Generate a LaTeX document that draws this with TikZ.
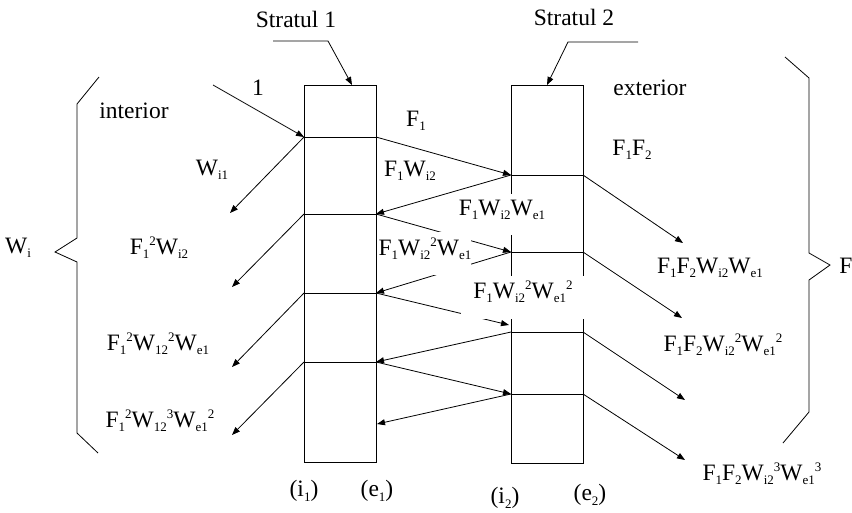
\documentclass[tikz,border=0pt]{standalone}
\usepackage{fontspec}
\setmainfont{Liberation Serif}
\usetikzlibrary{arrows.meta}
\newcommand{\sbs}[1]{\raisebox{-4.5pt}{\fontsize{13}{13}\selectfont #1}}
\newcommand{\sps}[1]{\raisebox{8.5pt}{\fontsize{13}{13}\selectfont #1}}
\begin{document}
\begin{tikzpicture}[x=1pt,y=-1pt,line width=0.8pt,
  lbl/.style={inner sep=0pt,font=\fontsize{23.5}{26}\selectfont},
  arr/.style={-{Triangle[length=8pt,width=6pt]}},
  wbox/.style={lbl,fill=white,anchor=base}]
\useasboundingbox (0,0) rectangle (852,512);
% strata
\draw (304,85) rectangle (376,462);
\draw (511,85) rectangle (583,463);
% stratum 1 points
\coordinate (L1) at (304,137); \coordinate (R1) at (376,137);
\coordinate (L2) at (304,214); \coordinate (R2) at (376,214);
\coordinate (L3) at (304,293); \coordinate (R3) at (376,293);
\coordinate (L4) at (304,362); \coordinate (R4) at (376,362);
\coordinate (R5) at (377,424);
% stratum 2 points
\coordinate (S1) at (511,175); \coordinate (T1) at (583,175);
\coordinate (S2) at (511,252); \coordinate (T2) at (583,252);
\coordinate (S3) at (509,325);
\coordinate (S4) at (511,332); \coordinate (T4) at (583,332);
\coordinate (S5) at (511,394); \coordinate (T5) at (583,394);
\draw (L1) -- (R1); \draw (L2) -- (R2); \draw (L3) -- (R3); \draw (L4) -- (R4);
\draw (S1) -- (T1); \draw (S2) -- (T2); \draw (S4) -- (T4); \draw (S5) -- (T5);
% free ends
\coordinate (in1) at (213,85);
\coordinate (o1) at (230,213);
\coordinate (o2) at (232,287);
\coordinate (o3) at (232,367);
\coordinate (o4) at (232,435);
\coordinate (x1) at (683,243);
\coordinate (x2) at (682,318);
\coordinate (x3) at (685,400);
\coordinate (x4) at (685,460);
% pointers to strata
\coordinate (p1a) at (273,41); \coordinate (p1b) at (328,41); \coordinate (p1c) at (352,85);
\coordinate (p2a) at (638,42); \coordinate (p2b) at (568,42); \coordinate (p2c) at (547,85);
\draw[arr] (p1a) -- (p1b) -- (p1c);
\draw[arr] (p2a) -- (p2b) -- (p2c);
% arrows
\draw[arr] (in1) -- (L1);
\draw[arr] (L1) -- (o1);
\draw[arr] (L2) -- (o2);
\draw[arr] (L3) -- (o3);
\draw[arr] (L4) -- (o4);
\draw[arr] (R1) -- (S1);
\draw[arr] (S1) -- (R2);
\draw[arr] (R2) -- (S2);
\draw[arr] (S2) -- (R3);
\draw[arr] (R3) -- (S3);
\draw[arr] (S4) -- (R4);
\draw[arr] (R4) -- (S5);
\draw[arr] (S5) -- (R5);
\draw[arr] (T1) -- (x1);
\draw[arr] (T2) -- (x2);
\draw[arr] (T4) -- (x3);
\draw[arr] (T5) -- (x4);
% braces
\draw (99,77) -- (77,104) -- (77,238) -- (55,252) -- (77,262) -- (77,433) -- (98,453);
\draw (785,57) -- (809,78) -- (809,253) -- (830,265) -- (809,280) -- (809,412) -- (783,443);
% labels
\node[lbl] (st1) at (296,19) {Stratul 1};
\node[lbl] (st2) at (574,17) {Stratul 2};
\node[lbl] (one) at (258,88) {1};
\node[lbl] (int) at (134,111) {interior};
\node[lbl] (ext) at (650,88) {exterior};
\node[lbl] (f1) at (416,121) {F\sbs{1}};
\node[lbl] (f1f2) at (632,150) {F\sbs{1}F\sbs{2}};
\node[lbl] (wi1) at (212,170) {W\sbs{i1}};
\node[lbl] (f1wi2) at (410,171) {F\sbs{1}W\sbs{i2}};
\node[wbox,text height=21pt,text depth=20pt,minimum width=105pt] (b1) at (502,215) {F\sbs{1}W\sbs{i2}W\sbs{e1}};
\node[lbl] (a1) at (159,248) {F\sbs{1}\sps{2}W\sbs{i2}};
\node[lbl] (wi) at (18,248) {W\sbs{i}};
\node[wbox,text height=23pt,text depth=20pt,minimum width=92pt] (b2) at (425,255) {F\sbs{1}W\sbs{i2}\sps{2}W\sbs{e1}};
\node[lbl] (c1) at (710,268) {F\sbs{1}F\sbs{2}W\sbs{i2}W\sbs{e1}};
\node[lbl] (ff) at (846,266) {F};
\node[wbox,text height=22pt,text depth=21pt,minimum width=124pt] (b3) at (523,298) {F\sbs{1}W\sbs{i2}\sps{2}W\sbs{e1}\sps{2}};
\node[lbl] (a2) at (158,344) {F\sbs{1}\sps{2}W\sbs{12}\sps{2}W\sbs{e1}};
\node[lbl] (c2) at (723,345) {F\sbs{1}F\sbs{2}W\sbs{i2}\sps{2}W\sbs{e1}\sps{2}};
\node[lbl] (a3) at (160,421) {F\sbs{1}\sps{2}W\sbs{12}\sps{3}W\sbs{e1}\sps{2}};
\node[lbl] (c3) at (762,474) {F\sbs{1}F\sbs{2}W\sbs{i2}\sps{3}W\sbs{e1}\sps{3}};
\node[lbl] (i1) at (304,491) {(i\sbs{1})};
\node[lbl] (e1) at (377,491) {(e\sbs{1})};
\node[lbl] (i2) at (505,498) {(i\sbs{2})};
\node[lbl] (e2) at (590,495) {(e\sbs{2})};
\end{tikzpicture}
\end{document}
